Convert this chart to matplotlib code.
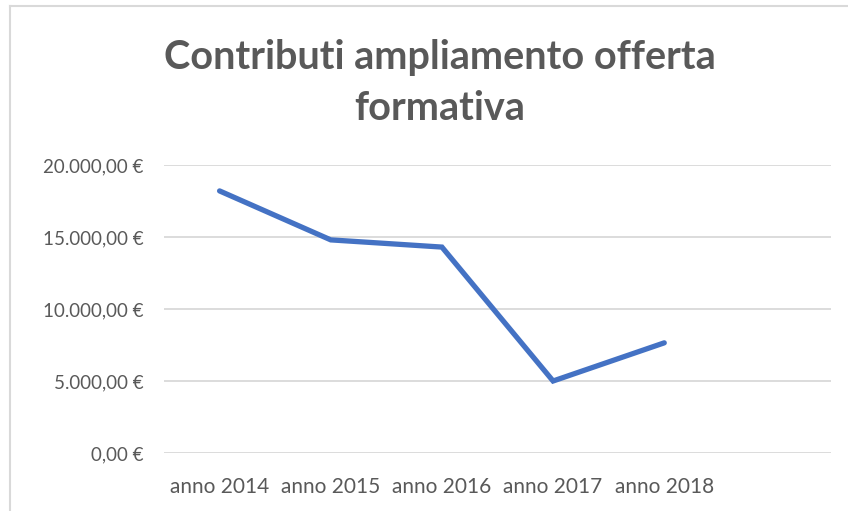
import matplotlib
matplotlib.use("Agg")
import matplotlib.pyplot as plt
from matplotlib.lines import Line2D
from matplotlib.ticker import FuncFormatter

# data
categories = ["anno 2014", "anno 2015", "anno 2016", "anno 2017", "anno 2018", ""]
values = [18200, 14800, 14300, 5000, 7650]
yticks = [0, 5000, 10000, 15000, 20000]

TEXT = "#595959"
GRID = "#D9D9D9"
LINE = "#4472C4"

plt.rcParams["font.family"] = ["Lato", "DejaVu Sans"]

W, H = 848, 511
fig = plt.figure(figsize=(W / 100, H / 100), dpi=100)
ax = fig.add_axes([164 / W, 1 - 453 / H, (831 - 164) / W, (453 - 165) / H])


def euro(v, pos):
    s = f"{v:,.2f}".replace(",", "X").replace(".", ",").replace("X", ".")
    return s + " €"


ax.plot(range(len(values)), values, color=LINE, lw=3.8, solid_capstyle="round",
        solid_joinstyle="miter", zorder=3)

ax.set_xlim(-0.5, len(categories) - 0.5)
ax.set_ylim(0, 20000)
ax.set_yticks(yticks)
ax.yaxis.set_major_formatter(FuncFormatter(euro))
ax.set_xticks(range(len(categories)))
ax.set_xticklabels(categories)

ax.grid(axis="y", color=GRID, lw=1.3)
ax.set_axisbelow(True)
for s in ax.spines.values():
    s.set_visible(False)
ax.tick_params(axis="both", length=0, colors=TEXT)
ax.tick_params(axis="y", pad=15, labelsize=13.5)
ax.tick_params(axis="x", pad=17, labelsize=15)

fig.text(440 / W, 1 - 58 / H, "Contributi ampliamento offerta", ha="center", va="center",
         fontsize=28.5, fontweight="bold", color=TEXT)
fig.text(440 / W, 1 - 108 / H, "formativa", ha="center", va="center",
         fontsize=28.5, fontweight="bold", color=TEXT)

# chart area border (only left and top edges visible)
fig.add_artist(Line2D([9.5 / W, 9.5 / W], [0, 1 - 6.5 / H], color=GRID, lw=1.5))
fig.add_artist(Line2D([9.5 / W, 1], [1 - 6.5 / H, 1 - 6.5 / H], color=GRID, lw=1.5))

fig.savefig("out.png", dpi=100)
